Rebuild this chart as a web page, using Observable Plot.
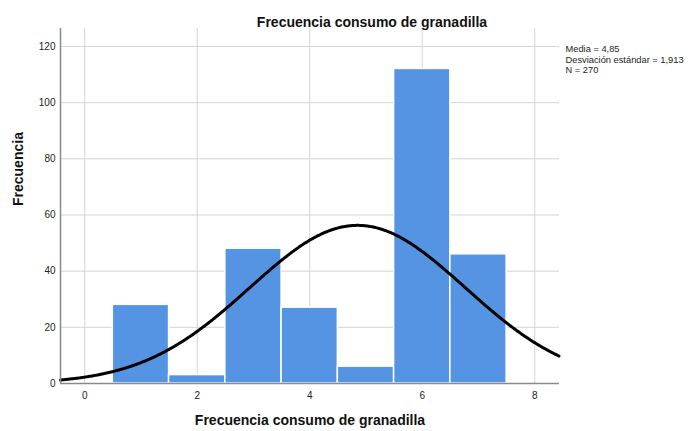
<!DOCTYPE html>
<html>
<head>
<meta charset="utf-8">
<script src="https://cdn.jsdelivr.net/npm/d3@7"></script>
<script src="https://cdn.jsdelivr.net/npm/@observablehq/plot@0.6"></script>
<style>
  html, body { margin: 0; padding: 0; background: #fff; }
  svg { font-family: "Liberation Sans", Arial, sans-serif; }
</style>
</head>
<body>
<div id="chart"></div>
<script>
const categories = [1, 2, 3, 4, 5, 6, 7];
const counts = [28, 3, 48, 27, 6, 112, 46];
const xTicks = [0, 2, 4, 6, 8];
const yTicks = [0, 20, 40, 60, 80, 100, 120];
const statLabels = ["Media = 4,85", "Desviación estándar = 1,913", "N = 270"];
const mean = 4.85, sd = 1.913, n = 270;
const titleText = "Frecuencia consumo de granadilla";
const xLabel = "Frecuencia consumo de granadilla";
const yLabel = "Frecuencia";

const bins = categories.map((c, i) => ({x1: c - 0.5, x2: c + 0.5, count: counts[i]}));
const xDomain = [-0.43, 8.44];
const curve = d3.range(xDomain[0], xDomain[1] + 0.001, 0.02).map(x => ({
  x, y: n * Math.exp(-0.5 * ((x - mean) / sd) ** 2) / (sd * Math.sqrt(2 * Math.PI))
}));

const chart = Plot.plot({
  width: 688,
  height: 431,
  marginLeft: 60,
  marginRight: 129,
  marginTop: 28,
  marginBottom: 48,
  style: {fontSize: "10px", color: "#222", fontFamily: "Liberation Sans, Arial, sans-serif"},
  x: {domain: xDomain, ticks: xTicks},
  y: {domain: [0, 126.4], ticks: yTicks},
  marks: [
    Plot.gridY(yTicks, {stroke: "#d4d4d4", strokeOpacity: 1, strokeWidth: 1}),
    Plot.gridX(xTicks, {stroke: "#d4d4d4", strokeOpacity: 1, strokeWidth: 1}),
    Plot.rectY(bins, {x1: "x1", x2: "x2", y: "count", fill: "#5494e3", stroke: "#ffffff", strokeWidth: 1.5}),
    Plot.line(curve, {x: "x", y: "y", stroke: "#000", strokeWidth: 3, curve: "basis"}),
    Plot.ruleX([xDomain[0]], {stroke: "#8a8a8a", strokeWidth: 1.5}),
    Plot.ruleY([0], {stroke: "#8a8a8a", strokeWidth: 1.5}),
    Plot.axisX(xTicks, {tickSize: 0, tickPadding: 8, label: null, fontSize: 10}),
    Plot.axisY(yTicks, {tickSize: 0, tickPadding: 5, label: null, fontSize: 10}),
    Plot.text([titleText], {frameAnchor: "top", dx: 62, dy: -11, fontSize: 14, fontWeight: "bold", fill: "#111"}),
    Plot.text([xLabel], {frameAnchor: "bottom", dy: 37, fontSize: 14, fontWeight: "bold", fill: "#111", lineAnchor: "middle"}),
    Plot.text([yLabel], {frameAnchor: "left", dx: -42, dy: 0, rotate: -90, fontSize: 14, fontWeight: "bold", fill: "#111"}),
    Plot.text([statLabels.join("\n")], {frameAnchor: "top-right", textAnchor: "start", dx: 6, dy: 16, lineHeight: 1.15, fontSize: 9.3, fill: "#222"})
  ]
});
document.getElementById("chart").appendChild(chart);
</script>
</body>
</html>
